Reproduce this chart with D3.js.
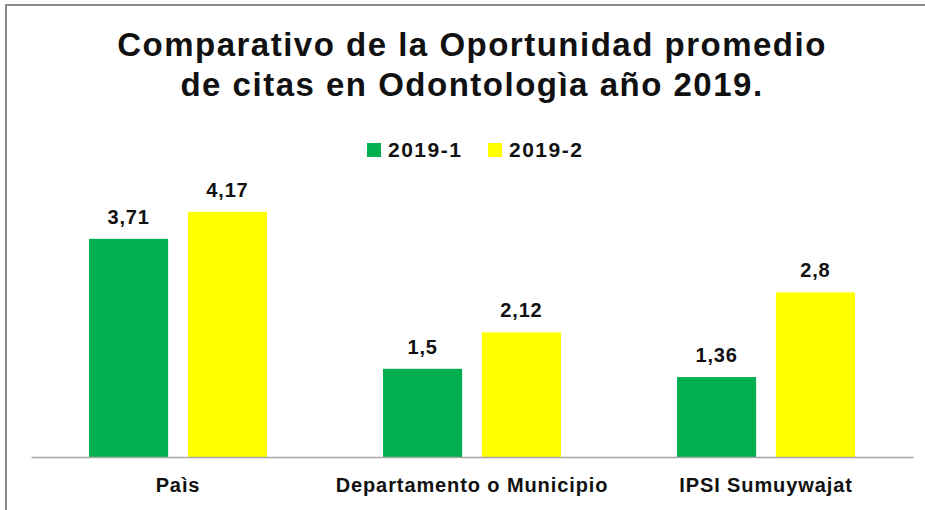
<!DOCTYPE html>
<html>
<head>
<meta charset="utf-8">
<script src="https://cdn.jsdelivr.net/npm/d3@7"></script>
<style>
  body { margin: 0; background: #fff; }
  text { font-family: "Liberation Sans", Arial, sans-serif; font-weight: bold; fill: #111; }
</style>
</head>
<body>
<div id="chart"></div>
<script>
// Chart data
const categories = ["Paìs", "Departamento o Municipio", "IPSI Sumuywajat"];
const seriesNames = ["2019-1", "2019-2"];
const values2019_1 = [3.71, 1.5, 1.36];
const values2019_2 = [4.17, 2.12, 2.8];
const seriesColors = ["#00B050", "#FFFF00"];

const W = 925, H = 510;
const baseY = 457;

const svg = d3.select("#chart")
    .append("svg")
    .attr("width", W)
    .attr("height", H);

svg.append("rect").attr("width", W).attr("height", H).attr("fill", "#fff");

// frame (only left and top edges are visible in the picture)
svg.append("path")
    .attr("d", `M6,${H} V5 H${W}`)
    .attr("fill", "none")
    .attr("stroke", "#8c8c8c")
    .attr("stroke-width", 2);

// title
const title = svg.append("text")
    .attr("text-anchor", "middle")
    .style("font-size", "33px")
    .style("letter-spacing", "1.5px");
title.append("tspan").attr("x", 472).attr("y", 56).text("Comparativo de la Oportunidad promedio");
title.append("tspan").attr("x", 472).attr("y", 96).text("de citas en Odontologìa año 2019.");

// legend
const legendX = [367, 488];
const legend = svg.append("g");
seriesNames.forEach((name, i) => {
    legend.append("rect")
        .attr("x", legendX[i])
        .attr("y", 143)
        .attr("width", 14)
        .attr("height", 14)
        .attr("fill", seriesColors[i]);
    legend.append("text")
        .attr("x", legendX[i] + 21)
        .attr("y", 157)
        .style("font-size", "21px")
        .style("letter-spacing", "1.5px")
        .text(name);
});

// scales
const x0 = d3.scaleBand()
    .domain(categories)
    .range([31, 913])
    .padding(0);

const groupW = 178;
const x1 = d3.scaleBand()
    .domain(seriesNames)
    .range([(x0.bandwidth() - groupW) / 2, (x0.bandwidth() + groupW) / 2])
    .paddingInner(0.2)
    .paddingOuter(0);

const y = d3.scaleLinear()
    .domain([0, 4.5])
    .range([baseY, baseY - 4.5 * 58.8]);

const rows = categories.map((c, i) => ({
    category: c,
    vals: [
        {key: seriesNames[0], value: values2019_1[i]},
        {key: seriesNames[1], value: values2019_2[i]}
    ]
}));

const color = d3.scaleOrdinal().domain(seriesNames).range(seriesColors);
const fmt = v => String(v).replace(".", ",");

const groups = svg.append("g")
  .selectAll("g")
  .data(rows)
  .join("g")
    .attr("transform", d => `translate(${x0(d.category)},0)`);

groups.selectAll("rect")
  .data(d => d.vals)
  .join("rect")
    .attr("x", d => x1(d.key))
    .attr("y", d => y(d.value))
    .attr("width", x1.bandwidth())
    .attr("height", d => y(0) - y(d.value))
    .attr("fill", d => color(d.key));

groups.selectAll("text.val")
  .data(d => d.vals)
  .join("text")
    .attr("class", "val")
    .attr("x", d => x1(d.key) + x1.bandwidth() / 2)
    .attr("y", d => y(d.value) - 15)
    .attr("text-anchor", "middle")
    .style("font-size", "20px")
    .style("letter-spacing", "0.8px")
    .text(d => fmt(d.value));

// category axis
const xAxis = svg.append("g")
    .attr("transform", `translate(0,${baseY})`)
    .call(d3.axisBottom(x0).tickSize(0).tickPadding(0));
xAxis.select(".domain")
    .attr("stroke", "#a6a6a6")
    .attr("stroke-width", 1.5);
xAxis.selectAll(".tick text")
    .attr("y", 35)
    .attr("dy", 0)
    .attr("fill", "#111")
    .style("font-family", "'Liberation Sans', Arial, sans-serif")
    .style("font-weight", "bold")
    .style("font-size", "20px")
    .style("letter-spacing", "0.9px");
</script>
</body>
</html>
